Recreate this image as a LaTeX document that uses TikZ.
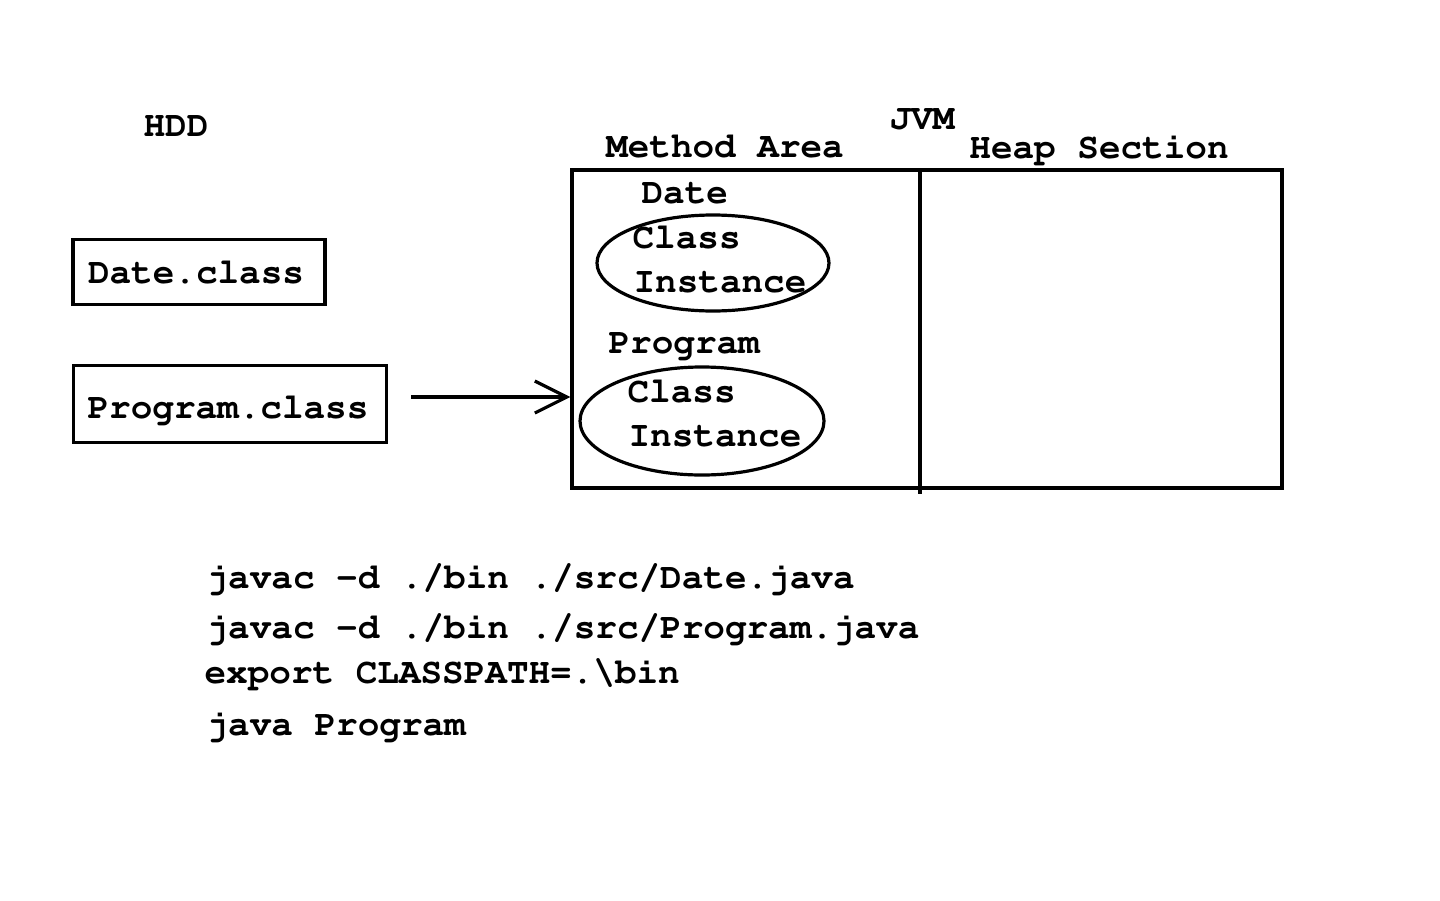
\documentclass[tikz,border=0pt]{standalone}
\usepackage[T1]{fontenc}
\newcommand\cour{\fontfamily{pcr}\selectfont}
\usetikzlibrary{arrows.meta,shapes.geometric}
\begin{document}
\begin{tikzpicture}[x=0.5pt, y=-0.5pt, line width=1.6pt,
	txt/.style={font=\cour\bfseries\fontsize{18}{20}\selectfont, inner sep=0pt},
	cmd/.style={txt, anchor=base west},
	filebox/.style={draw, inner sep=0pt},
	loaded/.style={draw, ellipse, inner sep=0pt}]
	\useasboundingbox (0,0) rectangle (1440,900);
	% hard disk
	\node[txt, anchor=base] (hdd) at (176,136) {HDD};
	\node[filebox, minimum width=126pt, minimum height=32.5pt] (date) at (199,272) {};
	\node[txt] (datetxt) at (196,272) {Date.class};
	\node[filebox, minimum width=156.5pt, minimum height=38.5pt] (prog) at (230,404) {};
	\node[txt] (progtxt) at (228,410) {Program.class};
	% jvm
	\node[txt, anchor=base] (jvm) at (922,129) {JVM};
	\node[txt, anchor=base] (method) at (725,157) {Method Area};
	\node[txt, anchor=base] (heap) at (1099,158) {Heap Section};
	\node[draw, minimum width=355pt, minimum height=159pt, inner sep=0pt] (jvmbox) at (927,329) {};
	\draw (920,170) -- (920,494);
	\node[txt, anchor=base west] (datelbl) at (640,203) {Date};
	\node[loaded, minimum width=116pt, minimum height=48pt] (dateobj) at (713,263) {};
	\node[txt, anchor=base west] (dcls) at (631,248) {Class};
	\node[txt, anchor=base west] (dinst) at (632,292) {Instance};
	\node[txt, anchor=base west] (proglbl) at (607,353) {Program};
	\node[loaded, minimum width=122pt, minimum height=54pt] (progobj) at (702,421) {};
	\node[txt, anchor=base west] (pcls) at (626,402) {Class};
	\node[txt, anchor=base west] (pinst) at (627,446) {Instance};
	% loading
	\coordinate (load) at (411,397);
	\draw[-{Straight Barb[length=16pt, width=16pt]}] (load) -- (load -| jvmbox.west);
	% commands
	\node[cmd] (c1) at (205,588) {javac -d ./bin ./src/Date.java};
	\node[cmd] (c2) at (205,638) {javac -d ./bin ./src/Program.java};
	\node[cmd] (c3) at (203,683) {export CLASSPATH=.\textbackslash bin};
	\node[cmd] (c4) at (205,735) {java Program};
\end{tikzpicture}
\end{document}
